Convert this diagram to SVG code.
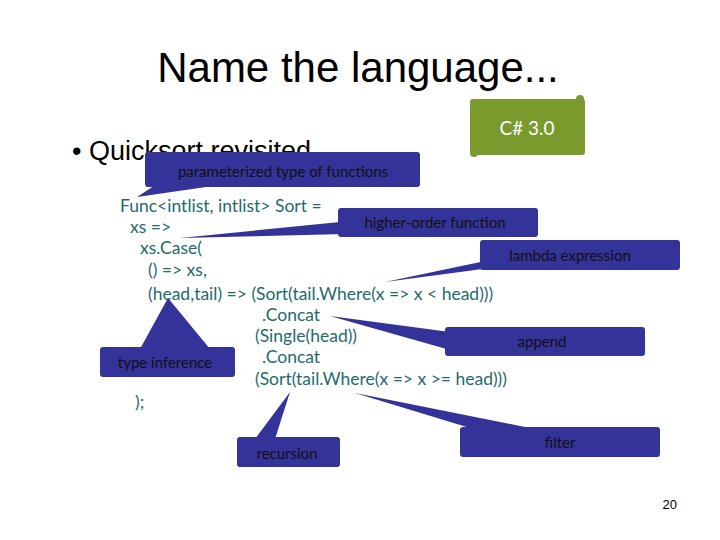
<svg xmlns="http://www.w3.org/2000/svg" width="720" height="540" viewBox="0 0 720 540">
<style>
.code{font-family:"Lato","Liberation Sans",sans-serif;font-size:17.5px;fill:#1f6b6b}
.call{fill:#333399}
.ct{font-family:"Lato","Liberation Sans",sans-serif;font-size:15px;fill:#111;text-anchor:middle}
</style>
<rect width="720" height="540" fill="#fff"/>
<text x="358" y="82" font-family="Liberation Sans,sans-serif" font-size="42" text-anchor="middle" fill="#000">Name the language...</text>
<text x="72" y="160" font-family="Liberation Sans,sans-serif" font-size="27" fill="#000">• Quicksort revisited</text>
<g id="code">
<text class="code" x="120" y="212">Func&lt;intlist, intlist&gt; Sort =</text>
<text class="code" x="130" y="233">xs =&gt;</text>
<text class="code" x="140" y="254">xs.Case(</text>
<text class="code" x="148" y="276">() =&gt; xs,</text>
<text class="code" x="148" y="300">(head,tail) =&gt; (Sort(tail.Where(x =&gt; x &lt; head)))</text>
<text class="code" x="262" y="321">.Concat</text>
<text class="code" x="255" y="342">(Single(head))</text>
<text class="code" x="262" y="363">.Concat</text>
<text class="code" x="255" y="385">(Sort(tail.Where(x =&gt; x &gt;= head)))</text>
<text class="code" x="135" y="408">);</text>
</g>
<g id="csharp">
<rect x="470" y="99" width="115" height="56" rx="3" fill="#7a9a2e"/>
<circle cx="580" cy="99" r="4" fill="#7a9a2e"/>
<circle cx="474" cy="153" r="4" fill="#7a9a2e"/>
<text x="527" y="135" font-family="Lato,Liberation Sans,sans-serif" font-size="19" fill="#fff" text-anchor="middle">C# 3.0</text>
</g>
<g id="callouts">
<g id="c-param"><polygon class="call" points="160,182 137,197 220,185"/><rect class="call" x="145" y="152" width="275" height="35" rx="3"/><text class="ct" x="283" y="177">parameterized type of functions</text></g>
<g id="c-hof"><polygon class="call" points="340,222 180,238 345,234"/><rect class="call" x="338" y="208" width="200" height="29" rx="3"/><text class="ct" x="435" y="228">higher-order function</text></g>
<g id="c-lambda"><polygon class="call" points="490,260 385,282 490,268"/><rect class="call" x="480" y="240" width="200" height="30" rx="3"/><text class="ct" x="570" y="261">lambda expression</text></g>
<g id="c-append"><polygon class="call" points="450,332 330,316 450,350"/><rect class="call" x="445" y="327" width="200" height="29" rx="3"/><text class="ct" x="542" y="347">append</text></g>
<g id="c-type"><polygon class="call" points="140,349 168,298 210,349"/><rect class="call" x="100" y="347" width="135" height="30" rx="3"/><text class="ct" x="165" y="368">type inference</text></g>
<g id="c-rec"><polygon class="call" points="255,439 290,392 275,439"/><rect class="call" x="237" y="437" width="103" height="30" rx="3"/><text class="ct" x="287" y="459">recursion</text></g>
<g id="c-filter"><polygon class="call" points="470,428 355,393 530,428"/><rect class="call" x="460" y="427" width="200" height="30" rx="3"/><text class="ct" x="560" y="448">filter</text></g>
</g>
<text x="677" y="509" font-family="Liberation Sans,sans-serif" font-size="13" text-anchor="end" fill="#000">20</text>
</svg>
